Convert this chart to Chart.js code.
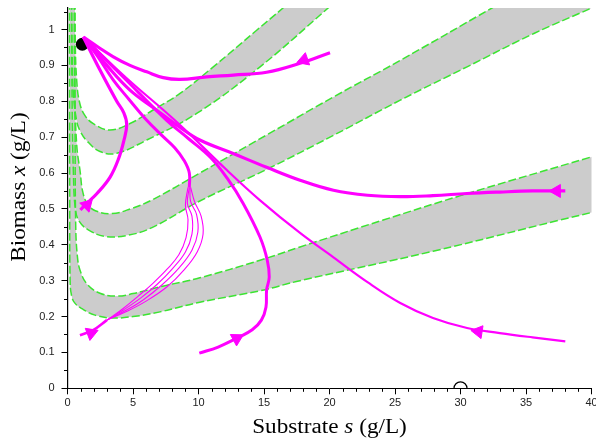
<!DOCTYPE html>
<html>
<head>
<meta charset="utf-8">
<script src="https://cdn.jsdelivr.net/npm/chart.js@4.4.0/dist/chart.umd.min.js"></script>
<style>
  html, body { margin: 0; padding: 0; background: #fff; }
</style>
</head>
<body>
<canvas id="chart" width="596" height="441"></canvas>
<script>
// Shaded bands: inner (upper) and outer (lower) boundary curves, [s, x] in g/L
const band1Upper = [[0.55,1.2],[0.6,0.95],[0.7,0.86],[0.9,0.8],[1.3,0.762],[2,0.737],[3.24,0.72],[4.77,0.738],[6.5,0.775],[8.59,0.822],[11.13,0.896],[14.44,0.998],[16.45,1.06],[17.5,1.095]];
const band1Lower = [[0.3,1.2],[0.35,0.95],[0.45,0.82],[0.7,0.745],[0.95,0.718],[1.47,0.69],[2.48,0.66],[3.76,0.655],[6.05,0.692],[9.86,0.766],[14.7,0.896],[19.9,1.06],[21,1.095]];
const band2Upper = [[0.5,1.2],[0.55,0.85],[0.7,0.68],[0.98,0.6],[1.15,0.55],[1.5,0.515],[2.12,0.495],[3.4,0.487],[4.8,0.5],[6.45,0.525],[10.1,0.6],[15.2,0.706],[20.3,0.812],[25.4,0.914],[32.4,1.06],[34,1.093]];
const band2Lower = [[0.3,1.2],[0.35,0.8],[0.45,0.6],[0.6,0.5],[0.9,0.465],[1.62,0.441],[2.9,0.423],[4.67,0.427],[6.45,0.448],[10.1,0.522],[15.2,0.61],[20.3,0.705],[25.4,0.803],[30.5,0.896],[35.6,0.989],[40,1.06],[42,1.095]];
const band3Upper = [[0.55,1.2],[0.58,0.7],[0.63,0.45],[0.75,0.37],[0.95,0.33],[1.5,0.29],[2.48,0.265],[3.75,0.257],[5,0.264],[7.06,0.283],[10.1,0.308],[14.7,0.357],[17.75,0.394],[24.1,0.469],[30,0.537],[40,0.645],[42,0.667]];
const band3Lower = [[0.15,1.2],[0.17,0.5],[0.2,0.3],[0.3,0.26],[0.55,0.238],[1.1,0.222],[2.1,0.204],[3.4,0.196],[5,0.2],[7.06,0.213],[10.1,0.24],[14.7,0.272],[17.75,0.3],[27.9,0.382],[37.6,0.469],[40,0.49],[42,0.507]];

// Trajectories, from initial condition to the equilibrium
const trajTop = [[20.04,0.935],[17.75,0.906],[15.2,0.881],[12.66,0.873],[10.63,0.868],[8.59,0.861],[7.31,0.866],[6.05,0.882],[4.77,0.9],[3.5,0.924],[2.3,0.952],[1.21,0.979]];
const trajLeft = [[0.98,0.497],[1.49,0.516],[2.25,0.543],[3.24,0.588],[3.9,0.64],[4.3,0.69],[4.52,0.735],[4.3,0.768],[3.76,0.8],[2.48,0.887],[1.21,0.979]];
const trajMid = [[10.06,0.098],[11.5,0.115],[12.94,0.14],[14.1,0.163],[14.8,0.19],[15.15,0.226],[15.2,0.274],[15.4,0.31],[15.25,0.357],[14.7,0.421],[13.4,0.516],[12.2,0.585],[10.9,0.644],[9.2,0.697],[7.57,0.747],[4.4,0.862],[1.21,0.979]];
const trajFarLow = [[38,0.131],[35.5,0.142],[33,0.154],[30.5,0.168],[27.9,0.196],[25.4,0.238],[22.9,0.296],[20.3,0.365],[17.75,0.433],[14.7,0.524],[12.2,0.607],[8.2,0.747],[4.5,0.865],[1.21,0.979]];
const trajFarMid = [[38,0.55],[35.5,0.55],[33,0.547],[30.5,0.543],[27.9,0.537],[25.4,0.534],[22.9,0.538],[20.3,0.552],[17.75,0.58],[15.2,0.616],[12.6,0.655],[10.1,0.692],[8.6,0.727],[6.7,0.778],[4.77,0.831],[3,0.9],[1.21,0.979]];

// the low bundle: common start, a fan of members between the two lower bands, common end
const lowStart = [[0.95,0.148],[1.95,0.162],[3.0,0.19]];
const lowFanOuter = [[3.0,0.19],[4.5,0.214],[6.0,0.243],[7.6,0.283],[8.9,0.33],[9.9,0.38],[10.35,0.43],[10.2,0.48],[9.7,0.52],[9.4,0.56]];
const lowFanMidA = [[3.0,0.19],[4.4,0.216],[5.8,0.247],[7.2,0.288],[8.5,0.335],[9.5,0.385],[9.95,0.435],[9.85,0.485],[9.4,0.52],[9.35,0.56]];
const lowFanMidB = [[3.0,0.19],[4.3,0.219],[5.6,0.252],[6.85,0.29],[8.0,0.333],[9.0,0.38],[9.5,0.43],[9.5,0.48],[9.15,0.515],[9.3,0.56]];
const lowFanInner = [[3.0,0.19],[4.2,0.221],[5.4,0.257],[6.5,0.292],[7.6,0.332],[8.5,0.372],[9.05,0.42],[9.2,0.47],[9.0,0.51],[9.2,0.56]];
const lowEnd = [[9.3,0.56],[9.3,0.6],[8.9,0.635],[8.2,0.67],[7.2,0.705],[6.05,0.747],[4.7,0.805],[3.5,0.859],[2.3,0.925],[1.21,0.979]];

const trajectories = [trajTop, trajLeft, lowStart, trajMid, trajFarLow, trajFarMid,
    lowFanOuter, lowFanMidA, lowFanMidB, lowFanInner, lowEnd];
const trajWidths = [3.2, 3.2, 2.6, 3, 2.2, 3.2, 1.1, 1.1, 1.1, 1.1, 3];

// arrow heads: position and which trajectory they sit on
const arrowPos = [[18.05,0.915],[1.49,0.511],[1.8,0.154],[12.92,0.139],[31.36,0.158],[37.34,0.55]];
const arrowTraj = [0, 1, 2, 3, 4, 5];

const equilibrium = [[1.13, 0.959]];
const washout = [[30, 0]];

const GREEN = 'rgb(60,228,50)';
const MAGENTA = '#ff00ff';

const pts = arr => arr.map(([x, y]) => ({x, y}));
const shape = (upper, lower) => pts(upper.concat(lower.slice().reverse()));

const datasets = [];
[[band1Upper, band1Lower], [band2Upper, band2Lower], [band3Upper, band3Lower]].forEach(([u, l]) => {
    datasets.push({
        data: shape(u, l), fill: 'shape', backgroundColor: '#cccccc',
        borderWidth: 0, pointRadius: 0, tension: 0.4, order: 10
    });
    [u, l].forEach(c => datasets.push({
        data: pts(c), fill: false, borderColor: GREEN, borderWidth: 1.5,
        borderDash: [8, 3], pointRadius: 0, tension: 0.4, order: 9
    }));
});

datasets.push({
    type: 'scatter', data: pts(equilibrium), pointRadius: 6.5,
    backgroundColor: '#000', borderWidth: 0, order: 8
});

trajectories.forEach((t, i) => datasets.push({
    data: pts(t), fill: false, borderColor: MAGENTA, borderWidth: trajWidths[i],
    pointRadius: 0, tension: 0.4, order: 7
}));

// direction of travel at each arrow, measured in pixels along its trajectory
function arrowRotation(ctx) {
    const chart = ctx.chart;
    const sx = chart.scales.x, sy = chart.scales.y;
    const i = ctx.dataIndex;
    if (i === undefined || !sx || !sy) return 0;
    const t = trajectories[arrowTraj[i]].map(([a, b]) => [sx.getPixelForValue(a), sy.getPixelForValue(b)]);
    const p = [sx.getPixelForValue(arrowPos[i][0]), sy.getPixelForValue(arrowPos[i][1])];
    let best = 0, bestD = Infinity;
    for (let k = 0; k < t.length - 1; k++) {
        const mx = (t[k][0] + t[k + 1][0]) / 2, my = (t[k][1] + t[k + 1][1]) / 2;
        const d = Math.hypot(mx - p[0], my - p[1]);
        if (d < bestD) { bestD = d; best = k; }
    }
    const dx = t[best + 1][0] - t[best][0], dy = t[best + 1][1] - t[best][1];
    return Math.atan2(dy, dx) * 180 / Math.PI + 90;
}

datasets.push({
    type: 'scatter', data: pts(arrowPos), pointStyle: 'triangle', pointRadius: 7.5,
    rotation: arrowRotation, backgroundColor: MAGENTA, borderColor: MAGENTA, borderWidth: 1, order: 6
});

datasets.push({
    type: 'scatter', data: pts(washout), pointRadius: 6.5,
    backgroundColor: 'rgba(0,0,0,0)', borderColor: '#000', borderWidth: 1.2, order: 5
});

const minorTicks = {
    id: 'minorTicks',
    afterDraw(chart) {
        const {ctx, chartArea} = chart;
        const sx = chart.scales.x, sy = chart.scales.y;
        ctx.save();
        ctx.strokeStyle = '#000';
        ctx.lineWidth = 1;
        ctx.beginPath();
        for (let v = 1; v < 40; v++) {
            if (v % 5 === 0) continue;
            const px = Math.round(sx.getPixelForValue(v)) + 0.5;
            ctx.moveTo(px, chartArea.bottom);
            ctx.lineTo(px, chartArea.bottom + 3.5);
        }
        for (let k = 1; k <= 21; k += 2) {
            const py = Math.round(sy.getPixelForValue(k * 0.05)) + 0.5;
            ctx.moveTo(chartArea.left, py);
            ctx.lineTo(chartArea.left - 3.5, py);
        }
        ctx.stroke();
        ctx.restore();
    }
};

// axis titles with the italic math symbol
function drawMixed(ctx, parts, size, stretch) {
    const fontOf = it => (it ? 'italic ' : '') + size + 'px "Liberation Serif", serif';
    let total = 0;
    parts.forEach(([txt, it]) => { ctx.font = fontOf(it); total += ctx.measureText(txt).width; });
    ctx.scale(stretch, 1);
    let x = -total / 2;
    parts.forEach(([txt, it]) => {
        ctx.font = fontOf(it);
        ctx.fillText(txt, x, 0);
        x += ctx.measureText(txt).width;
    });
}

const axisTitles = {
    id: 'axisTitles',
    afterDraw(chart) {
        const {ctx, chartArea} = chart;
        ctx.save();
        ctx.fillStyle = '#000';
        ctx.textBaseline = 'alphabetic';
        ctx.save();
        ctx.translate((chartArea.left + chartArea.right) / 2, 433);
        drawMixed(ctx, [['Substrate ', false], ['s', true], [' (g/L)', false]], 20, 1.16);
        ctx.restore();
        ctx.save();
        ctx.translate(25, 187);
        ctx.rotate(-Math.PI / 2);
        drawMixed(ctx, [['Biomass ', false], ['x', true], [' (g/L)', false]], 20, 1.16);
        ctx.restore();
        ctx.restore();
    }
};

new Chart(document.getElementById('chart').getContext('2d'), {
    type: 'line',
    data: { datasets },
    options: {
        responsive: false,
        animation: false,
        events: [],
        layout: { autoPadding: false, padding: { top: 8, right: 4.5, bottom: 0, left: 0 } },
        plugins: { legend: { display: false }, tooltip: { enabled: false } },
        scales: {
            x: {
                type: 'linear', min: 0, max: 40,
                border: { color: '#000', width: 1 },
                grid: { drawOnChartArea: false, tickLength: 6, tickColor: '#000' },
                ticks: {
                    stepSize: 5, includeBounds: false, maxRotation: 0, padding: 2,
                    color: '#222', font: { family: '"Liberation Sans", Arial, sans-serif', size: 11 }
                },
                afterFit: s => { s.height = 52.7; s.paddingLeft = 0; s.paddingRight = 0; }
            },
            y: {
                type: 'linear', min: 0, max: 1.06,
                border: { color: '#000', width: 1.2 },
                grid: { drawOnChartArea: false, tickLength: 6, tickColor: '#000' },
                ticks: {
                    stepSize: 0.1, includeBounds: false, padding: 7,
                    color: '#222', font: { family: '"Liberation Sans", Arial, sans-serif', size: 11 },
                    callback: v => String(+v.toFixed(2))
                },
                afterFit: s => { s.width = 67.5; s.paddingTop = 0; s.paddingBottom = 0; }
            }
        }
    },
    plugins: [minorTicks, axisTitles]
});
</script>
</body>
</html>
